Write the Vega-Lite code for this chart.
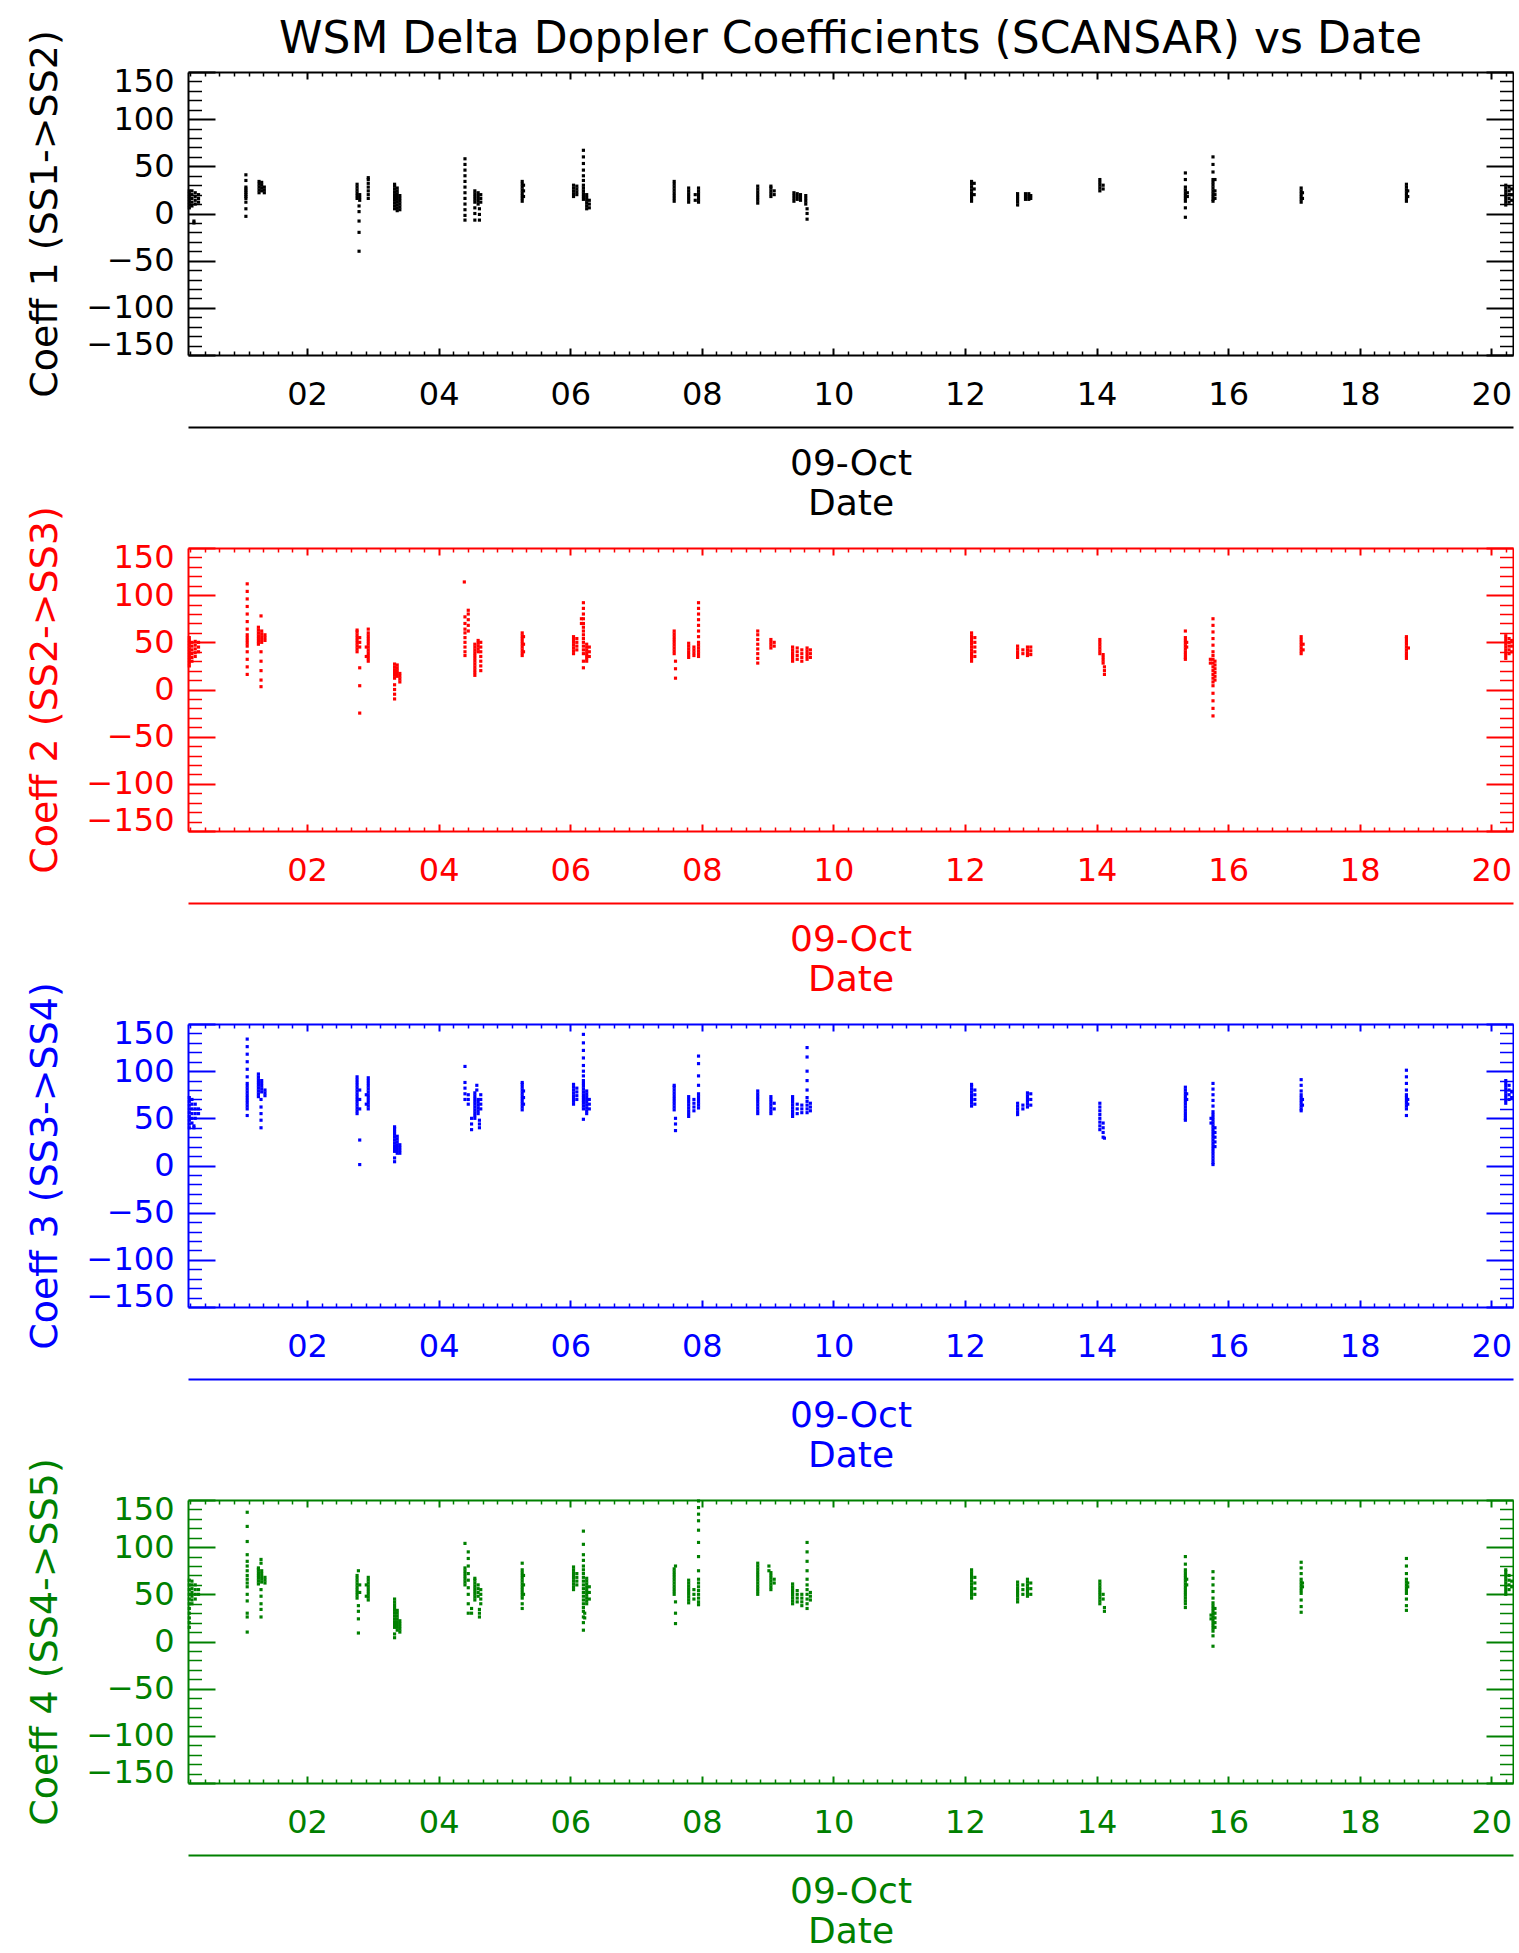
{
"$schema": "https://vega.github.io/schema/vega-lite/v6.json",
"background": "white",
"padding": {"left": 26, "top": 17, "right": 0, "bottom": 5},
"title": {"text": "WSM Delta Doppler Coefficients (SCANSAR) vs Date", "fontSize": 44, "font": "DejaVu Sans", "fontWeight": "normal", "color": "#000000", "anchor": "middle", "frame": "group", "offset": -32},
"config": {"view": {"stroke": null}, "axis": {"labelFont": "DejaVu Sans", "titleFont": "DejaVu Sans", "grid": false, "titleFontWeight": "normal"}},
"spacing": 193,
"bounds": "flush",
"datasets": {
"p1": [
{"h":0.21,"v":6},{"h":0.21,"v":9},{"h":0.21,"v":12},{"h":0.21,"v":15},{"h":0.21,"v":18},{"h":0.21,"v":21},{"h":0.21,"v":24},
{"h":0.25,"v":8},{"h":0.25,"v":12},{"h":0.25,"v":16},{"h":0.25,"v":20},{"h":0.25,"v":24},
{"h":0.3,"v":10},{"h":0.3,"v":14},{"h":0.3,"v":18},{"h":0.3,"v":22},
{"h":0.35,"v":12},{"h":0.35,"v":16},{"h":0.35,"v":20},
{"h":0.28,"v":-10},{"h":0.28,"v":-8},
{"h":1.07,"v":41},{"h":1.07,"v":35},{"h":1.07,"v":28},{"h":1.07,"v":26},{"h":1.07,"v":24},{"h":1.07,"v":22},{"h":1.07,"v":20},{"h":1.07,"v":18},{"h":1.07,"v":16},{"h":1.07,"v":12},{"h":1.07,"v":5},{"h":1.07,"v":-3},
{"h":1.27,"v":22},{"h":1.27,"v":25},{"h":1.27,"v":28},{"h":1.27,"v":31},{"h":1.27,"v":34},
{"h":1.31,"v":24},{"h":1.31,"v":27},{"h":1.31,"v":30},{"h":1.31,"v":33},
{"h":1.35,"v":22},{"h":1.35,"v":25},{"h":1.35,"v":28},
{"h":2.76,"v":16},{"h":2.76,"v":19},{"h":2.76,"v":22},{"h":2.76,"v":25},{"h":2.76,"v":28},{"h":2.76,"v":31},
{"h":2.8,"v":14},{"h":2.8,"v":17},{"h":2.8,"v":20},
{"h":2.79,"v":8},{"h":2.79,"v":2},{"h":2.79,"v":-8},{"h":2.79,"v":-20},{"h":2.79,"v":-40},
{"h":2.93,"v":16},{"h":2.93,"v":20},{"h":2.93,"v":24},{"h":2.93,"v":28},{"h":2.93,"v":32},{"h":2.93,"v":36},{"h":2.93,"v":38},
{"h":3.33,"v":5},{"h":3.33,"v":8},{"h":3.33,"v":11},{"h":3.33,"v":14},{"h":3.33,"v":17},{"h":3.33,"v":20},{"h":3.33,"v":23},{"h":3.33,"v":26},{"h":3.33,"v":29},{"h":3.33,"v":31},
{"h":3.37,"v":3},{"h":3.37,"v":6},{"h":3.37,"v":9},{"h":3.37,"v":12},{"h":3.37,"v":15},{"h":3.37,"v":18},{"h":3.37,"v":21},{"h":3.37,"v":24},{"h":3.37,"v":27},
{"h":3.41,"v":4},{"h":3.41,"v":7},{"h":3.41,"v":10},{"h":3.41,"v":13},{"h":3.41,"v":16},{"h":3.41,"v":19},
{"h":4.4,"v":58},{"h":4.4,"v":52},{"h":4.4,"v":46},{"h":4.4,"v":40},{"h":4.4,"v":34},{"h":4.4,"v":28},{"h":4.4,"v":22},{"h":4.4,"v":16},{"h":4.4,"v":10},{"h":4.4,"v":4},{"h":4.4,"v":-2},{"h":4.4,"v":-7},
{"h":4.55,"v":12},{"h":4.55,"v":15},{"h":4.55,"v":18},{"h":4.55,"v":21},{"h":4.55,"v":24},{"h":4.55,"v":6},{"h":4.55,"v":0},{"h":4.55,"v":-7},
{"h":4.6,"v":10},{"h":4.6,"v":13},{"h":4.6,"v":16},{"h":4.6,"v":19},{"h":4.6,"v":22},
{"h":4.64,"v":12},{"h":4.64,"v":16},{"h":4.64,"v":20},
{"h":4.62,"v":5},{"h":4.62,"v":-1},{"h":4.62,"v":-7},
{"h":5.27,"v":13},{"h":5.27,"v":16},{"h":5.27,"v":19},{"h":5.27,"v":22},{"h":5.27,"v":25},{"h":5.27,"v":28},{"h":5.27,"v":31},{"h":5.27,"v":34},
{"h":5.29,"v":18},{"h":5.29,"v":24},{"h":5.29,"v":30},
{"h":6.05,"v":18},{"h":6.05,"v":21},{"h":6.05,"v":24},{"h":6.05,"v":27},{"h":6.05,"v":30},
{"h":6.1,"v":20},{"h":6.1,"v":23},{"h":6.1,"v":26},{"h":6.1,"v":29},
{"h":6.2,"v":67},{"h":6.2,"v":60},{"h":6.2,"v":53},{"h":6.2,"v":46},{"h":6.2,"v":40},{"h":6.2,"v":35},{"h":6.2,"v":30},{"h":6.2,"v":27},{"h":6.2,"v":24},{"h":6.2,"v":21},{"h":6.2,"v":18},{"h":6.2,"v":15},
{"h":6.25,"v":20},{"h":6.25,"v":17},{"h":6.25,"v":14},{"h":6.25,"v":11},{"h":6.25,"v":8},{"h":6.25,"v":5},
{"h":6.29,"v":14},{"h":6.29,"v":10},{"h":6.29,"v":6},
{"h":7.58,"v":13},{"h":7.58,"v":16},{"h":7.58,"v":19},{"h":7.58,"v":22},{"h":7.58,"v":25},{"h":7.58,"v":28},{"h":7.58,"v":31},{"h":7.58,"v":34},
{"h":7.8,"v":12},{"h":7.8,"v":15},{"h":7.8,"v":18},{"h":7.8,"v":21},{"h":7.8,"v":24},{"h":7.8,"v":27},
{"h":7.95,"v":12},{"h":7.95,"v":15},{"h":7.95,"v":18},{"h":7.95,"v":21},{"h":7.95,"v":24},{"h":7.95,"v":27},
{"h":7.9,"v":14},{"h":7.9,"v":20},
{"h":8.85,"v":11},{"h":8.85,"v":14},{"h":8.85,"v":17},{"h":8.85,"v":20},{"h":8.85,"v":23},{"h":8.85,"v":26},{"h":8.85,"v":29},
{"h":9.05,"v":18},{"h":9.05,"v":21},{"h":9.05,"v":24},{"h":9.05,"v":27},{"h":9.05,"v":29},
{"h":9.1,"v":20},{"h":9.1,"v":24},
{"h":9.4,"v":13},{"h":9.4,"v":16},{"h":9.4,"v":19},{"h":9.4,"v":22},
{"h":9.45,"v":15},{"h":9.45,"v":18},{"h":9.45,"v":21},
{"h":9.5,"v":14},{"h":9.5,"v":17},{"h":9.5,"v":20},
{"h":9.58,"v":10},{"h":9.58,"v":13},{"h":9.58,"v":16},{"h":9.58,"v":19},
{"h":9.6,"v":5},{"h":9.6,"v":0},{"h":9.6,"v":-6},
{"h":12.1,"v":13},{"h":12.1,"v":16},{"h":12.1,"v":19},{"h":12.1,"v":22},{"h":12.1,"v":25},{"h":12.1,"v":28},{"h":12.1,"v":31},{"h":12.1,"v":34},
{"h":12.14,"v":20},{"h":12.14,"v":26},{"h":12.14,"v":32},
{"h":12.8,"v":9},{"h":12.8,"v":12},{"h":12.8,"v":15},{"h":12.8,"v":18},{"h":12.8,"v":21},
{"h":12.92,"v":15},{"h":12.92,"v":18},{"h":12.92,"v":21},
{"h":12.97,"v":15},{"h":12.97,"v":18},{"h":12.97,"v":21},
{"h":13.0,"v":16},{"h":13.0,"v":19},
{"h":14.05,"v":24},{"h":14.05,"v":27},{"h":14.05,"v":30},{"h":14.05,"v":33},{"h":14.05,"v":36},
{"h":14.1,"v":26},{"h":14.1,"v":30},
{"h":15.35,"v":43},{"h":15.35,"v":36},{"h":15.35,"v":28},{"h":15.35,"v":25},{"h":15.35,"v":22},{"h":15.35,"v":19},{"h":15.35,"v":16},{"h":15.35,"v":13},{"h":15.35,"v":6},{"h":15.35,"v":-4},
{"h":15.38,"v":18},{"h":15.38,"v":22},
{"h":15.77,"v":60},{"h":15.77,"v":52},{"h":15.77,"v":44},{"h":15.77,"v":36},{"h":15.77,"v":33},{"h":15.77,"v":30},{"h":15.77,"v":27},{"h":15.77,"v":24},{"h":15.77,"v":21},{"h":15.77,"v":18},{"h":15.77,"v":15},{"h":15.77,"v":13},
{"h":15.8,"v":16},{"h":15.8,"v":20},{"h":15.8,"v":24},{"h":15.8,"v":36},
{"h":17.11,"v":12},{"h":17.11,"v":15},{"h":17.11,"v":18},{"h":17.11,"v":21},{"h":17.11,"v":24},{"h":17.11,"v":27},
{"h":17.13,"v":16},{"h":17.13,"v":22},
{"h":18.71,"v":13},{"h":18.71,"v":16},{"h":18.71,"v":19},{"h":18.71,"v":22},{"h":18.71,"v":25},{"h":18.71,"v":28},{"h":18.71,"v":31},
{"h":18.73,"v":18},{"h":18.73,"v":24},
{"h":20.22,"v":9},{"h":20.22,"v":12},{"h":20.22,"v":15},{"h":20.22,"v":18},{"h":20.22,"v":21},{"h":20.22,"v":24},{"h":20.22,"v":27},{"h":20.22,"v":30},
{"h":20.27,"v":12},{"h":20.27,"v":16},{"h":20.27,"v":20},{"h":20.27,"v":24},{"h":20.27,"v":28},
{"h":20.31,"v":14},{"h":20.31,"v":20},{"h":20.31,"v":26}
],
"p2": [
{"h":0.21,"v":25},{"h":0.21,"v":28},{"h":0.21,"v":31},{"h":0.21,"v":34},{"h":0.21,"v":37},{"h":0.21,"v":40},{"h":0.21,"v":43},{"h":0.21,"v":46},{"h":0.21,"v":49},{"h":0.21,"v":52},{"h":0.21,"v":55},
{"h":0.25,"v":30},{"h":0.25,"v":34},{"h":0.25,"v":38},{"h":0.25,"v":42},{"h":0.25,"v":46},{"h":0.25,"v":50},
{"h":0.3,"v":35},{"h":0.3,"v":39},{"h":0.3,"v":43},{"h":0.3,"v":47},{"h":0.3,"v":51},
{"h":0.35,"v":40},{"h":0.35,"v":45},{"h":0.35,"v":50},
{"h":1.09,"v":112},{"h":1.09,"v":104},{"h":1.09,"v":96},{"h":1.09,"v":88},{"h":1.09,"v":80},{"h":1.09,"v":72},{"h":1.09,"v":64},{"h":1.09,"v":58},{"h":1.09,"v":55},{"h":1.09,"v":52},{"h":1.09,"v":49},{"h":1.09,"v":46},{"h":1.09,"v":40},{"h":1.09,"v":32},{"h":1.09,"v":24},{"h":1.09,"v":16},
{"h":1.26,"v":48},{"h":1.26,"v":51},{"h":1.26,"v":54},{"h":1.26,"v":57},{"h":1.26,"v":60},{"h":1.26,"v":63},{"h":1.26,"v":66},
{"h":1.31,"v":50},{"h":1.31,"v":53},{"h":1.31,"v":56},{"h":1.31,"v":59},{"h":1.31,"v":62},
{"h":1.36,"v":52},{"h":1.36,"v":55},{"h":1.36,"v":58},
{"h":1.3,"v":40},{"h":1.3,"v":30},{"h":1.3,"v":20},{"h":1.3,"v":10},{"h":1.3,"v":3},{"h":1.3,"v":78},
{"h":2.76,"v":40},{"h":2.76,"v":43},{"h":2.76,"v":46},{"h":2.76,"v":49},{"h":2.76,"v":52},{"h":2.76,"v":55},{"h":2.76,"v":58},{"h":2.76,"v":61},{"h":2.76,"v":63},
{"h":2.8,"v":45},{"h":2.8,"v":50},{"h":2.8,"v":55},{"h":2.8,"v":23},{"h":2.8,"v":4},{"h":2.8,"v":-25},
{"h":2.93,"v":30},{"h":2.93,"v":33},{"h":2.93,"v":36},{"h":2.93,"v":39},{"h":2.93,"v":42},{"h":2.93,"v":45},{"h":2.93,"v":48},{"h":2.93,"v":51},{"h":2.93,"v":54},{"h":2.93,"v":57},{"h":2.93,"v":60},{"h":2.93,"v":64},
{"h":2.9,"v":35},{"h":2.9,"v":45},
{"h":3.33,"v":12},{"h":3.33,"v":15},{"h":3.33,"v":18},{"h":3.33,"v":21},{"h":3.33,"v":24},{"h":3.33,"v":27},{"h":3.33,"v":5},{"h":3.33,"v":0},{"h":3.33,"v":-5},{"h":3.33,"v":-10},
{"h":3.37,"v":14},{"h":3.37,"v":17},{"h":3.37,"v":20},{"h":3.37,"v":23},{"h":3.37,"v":26},
{"h":3.41,"v":8},{"h":3.41,"v":11},{"h":3.41,"v":14},{"h":3.41,"v":17},
{"h":4.39,"v":114},
{"h":4.4,"v":77},{"h":4.4,"v":70},{"h":4.4,"v":64},{"h":4.4,"v":60},{"h":4.4,"v":55},{"h":4.4,"v":50},{"h":4.4,"v":45},{"h":4.4,"v":40},{"h":4.4,"v":36},
{"h":4.45,"v":84},{"h":4.45,"v":80},{"h":4.45,"v":74},{"h":4.45,"v":68},{"h":4.45,"v":62},
{"h":4.55,"v":15},{"h":4.55,"v":18},{"h":4.55,"v":21},{"h":4.55,"v":24},{"h":4.55,"v":27},{"h":4.55,"v":30},{"h":4.55,"v":33},{"h":4.55,"v":36},{"h":4.55,"v":39},{"h":4.55,"v":42},{"h":4.55,"v":45},{"h":4.55,"v":48},
{"h":4.6,"v":40},{"h":4.6,"v":43},{"h":4.6,"v":46},{"h":4.6,"v":49},{"h":4.6,"v":52},
{"h":4.64,"v":20},{"h":4.64,"v":25},{"h":4.64,"v":30},{"h":4.64,"v":35},{"h":4.64,"v":40},{"h":4.64,"v":45},{"h":4.64,"v":50},
{"h":5.27,"v":36},{"h":5.27,"v":39},{"h":5.27,"v":42},{"h":5.27,"v":45},{"h":5.27,"v":48},{"h":5.27,"v":51},{"h":5.27,"v":54},{"h":5.27,"v":57},{"h":5.27,"v":60},
{"h":5.29,"v":40},{"h":5.29,"v":48},{"h":5.29,"v":56},
{"h":6.05,"v":38},{"h":6.05,"v":41},{"h":6.05,"v":44},{"h":6.05,"v":47},{"h":6.05,"v":50},{"h":6.05,"v":53},{"h":6.05,"v":56},
{"h":6.1,"v":42},{"h":6.1,"v":46},{"h":6.1,"v":50},{"h":6.1,"v":54},
{"h":6.2,"v":92},{"h":6.2,"v":86},{"h":6.2,"v":80},{"h":6.2,"v":75},{"h":6.2,"v":70},{"h":6.2,"v":66},{"h":6.2,"v":62},{"h":6.2,"v":58},{"h":6.2,"v":54},{"h":6.2,"v":50},{"h":6.2,"v":46},{"h":6.2,"v":42},{"h":6.2,"v":38},{"h":6.2,"v":30},{"h":6.2,"v":23},
{"h":6.25,"v":30},{"h":6.25,"v":33},{"h":6.25,"v":36},{"h":6.25,"v":39},{"h":6.25,"v":42},{"h":6.25,"v":45},{"h":6.25,"v":48},
{"h":6.29,"v":35},{"h":6.29,"v":40},{"h":6.29,"v":45},
{"h":6.17,"v":70},{"h":6.17,"v":75},
{"h":7.58,"v":38},{"h":7.58,"v":41},{"h":7.58,"v":44},{"h":7.58,"v":47},{"h":7.58,"v":50},{"h":7.58,"v":53},{"h":7.58,"v":56},{"h":7.58,"v":59},{"h":7.58,"v":62},
{"h":7.6,"v":30},{"h":7.6,"v":22},{"h":7.6,"v":12},
{"h":7.8,"v":34},{"h":7.8,"v":37},{"h":7.8,"v":40},{"h":7.8,"v":43},{"h":7.8,"v":46},{"h":7.8,"v":49},
{"h":7.88,"v":36},{"h":7.88,"v":39},{"h":7.88,"v":42},{"h":7.88,"v":45},
{"h":7.95,"v":92},{"h":7.95,"v":86},{"h":7.95,"v":80},{"h":7.95,"v":74},{"h":7.95,"v":68},{"h":7.95,"v":62},{"h":7.95,"v":56},{"h":7.95,"v":50},{"h":7.95,"v":47},{"h":7.95,"v":44},{"h":7.95,"v":41},{"h":7.95,"v":38},{"h":7.95,"v":35},
{"h":8.85,"v":28},{"h":8.85,"v":33},{"h":8.85,"v":38},{"h":8.85,"v":43},{"h":8.85,"v":48},{"h":8.85,"v":53},{"h":8.85,"v":58},{"h":8.85,"v":62},
{"h":9.05,"v":44},{"h":9.05,"v":47},{"h":9.05,"v":50},{"h":9.05,"v":53},
{"h":9.1,"v":46},{"h":9.1,"v":50},
{"h":9.38,"v":30},{"h":9.38,"v":33},{"h":9.38,"v":36},{"h":9.38,"v":39},{"h":9.38,"v":42},{"h":9.38,"v":45},
{"h":9.45,"v":32},{"h":9.45,"v":36},{"h":9.45,"v":40},{"h":9.45,"v":44},
{"h":9.52,"v":30},{"h":9.52,"v":34},{"h":9.52,"v":38},{"h":9.52,"v":42},
{"h":9.6,"v":32},{"h":9.6,"v":35},{"h":9.6,"v":38},{"h":9.6,"v":41},{"h":9.6,"v":44},
{"h":9.65,"v":34},{"h":9.65,"v":38},{"h":9.65,"v":42},
{"h":12.1,"v":30},{"h":12.1,"v":33},{"h":12.1,"v":36},{"h":12.1,"v":39},{"h":12.1,"v":42},{"h":12.1,"v":45},{"h":12.1,"v":48},{"h":12.1,"v":51},{"h":12.1,"v":54},{"h":12.1,"v":57},{"h":12.1,"v":60},
{"h":12.15,"v":35},{"h":12.15,"v":40},{"h":12.15,"v":45},{"h":12.15,"v":50},{"h":12.15,"v":55},
{"h":12.8,"v":34},{"h":12.8,"v":37},{"h":12.8,"v":40},{"h":12.8,"v":43},{"h":12.8,"v":46},
{"h":12.88,"v":38},{"h":12.88,"v":42},
{"h":12.95,"v":36},{"h":12.95,"v":39},{"h":12.95,"v":42},{"h":12.95,"v":45},
{"h":13.0,"v":37},{"h":13.0,"v":41},{"h":13.0,"v":45},
{"h":14.05,"v":38},{"h":14.05,"v":41},{"h":14.05,"v":44},{"h":14.05,"v":47},{"h":14.05,"v":50},{"h":14.05,"v":53},
{"h":14.1,"v":28},{"h":14.1,"v":31},{"h":14.1,"v":34},{"h":14.1,"v":37},
{"h":14.12,"v":24},{"h":14.12,"v":20},{"h":14.12,"v":16},
{"h":15.35,"v":62},{"h":15.35,"v":55},{"h":15.35,"v":52},{"h":15.35,"v":49},{"h":15.35,"v":46},{"h":15.35,"v":43},{"h":15.35,"v":40},{"h":15.35,"v":37},{"h":15.35,"v":34},{"h":15.35,"v":32},
{"h":15.37,"v":45},{"h":15.37,"v":50},
{"h":15.77,"v":75},{"h":15.77,"v":68},{"h":15.77,"v":61},{"h":15.77,"v":54},{"h":15.77,"v":47},{"h":15.77,"v":40},{"h":15.77,"v":36},{"h":15.77,"v":32},{"h":15.77,"v":28},{"h":15.77,"v":24},{"h":15.77,"v":20},{"h":15.77,"v":16},{"h":15.77,"v":12},{"h":15.77,"v":8},{"h":15.77,"v":4},{"h":15.77,"v":-4},{"h":15.77,"v":-12},{"h":15.77,"v":-20},{"h":15.77,"v":-28},
{"h":15.8,"v":30},{"h":15.8,"v":26},{"h":15.8,"v":22},{"h":15.8,"v":18},{"h":15.8,"v":14},{"h":15.8,"v":10},
{"h":15.73,"v":28},{"h":15.73,"v":32},
{"h":17.11,"v":38},{"h":17.11,"v":41},{"h":17.11,"v":44},{"h":17.11,"v":47},{"h":17.11,"v":50},{"h":17.11,"v":53},{"h":17.11,"v":56},
{"h":17.14,"v":42},{"h":17.14,"v":48},
{"h":18.71,"v":33},{"h":18.71,"v":36},{"h":18.71,"v":39},{"h":18.71,"v":42},{"h":18.71,"v":45},{"h":18.71,"v":48},{"h":18.71,"v":51},{"h":18.71,"v":54},{"h":18.71,"v":56},
{"h":18.74,"v":44},
{"h":20.22,"v":33},{"h":20.22,"v":36},{"h":20.22,"v":39},{"h":20.22,"v":42},{"h":20.22,"v":45},{"h":20.22,"v":48},{"h":20.22,"v":51},{"h":20.22,"v":54},{"h":20.22,"v":57},
{"h":20.27,"v":38},{"h":20.27,"v":42},{"h":20.27,"v":46},{"h":20.27,"v":50},{"h":20.27,"v":54},
{"h":20.31,"v":40},{"h":20.31,"v":46},{"h":20.31,"v":52}
],
"p3": [
{"h":0.21,"v":40},{"h":0.21,"v":44},{"h":0.21,"v":48},{"h":0.21,"v":52},{"h":0.21,"v":56},{"h":0.21,"v":60},{"h":0.21,"v":64},{"h":0.21,"v":68},{"h":0.21,"v":72},
{"h":0.25,"v":45},{"h":0.25,"v":50},{"h":0.25,"v":55},{"h":0.25,"v":60},{"h":0.25,"v":65},{"h":0.25,"v":70},
{"h":0.3,"v":50},{"h":0.3,"v":55},{"h":0.3,"v":60},{"h":0.3,"v":65},
{"h":0.35,"v":55},{"h":0.35,"v":60},
{"h":0.28,"v":42},{"h":0.28,"v":40},
{"h":1.09,"v":134},{"h":1.09,"v":126},{"h":1.09,"v":118},{"h":1.09,"v":110},{"h":1.09,"v":102},{"h":1.09,"v":94},{"h":1.09,"v":87},{"h":1.09,"v":84},{"h":1.09,"v":81},{"h":1.09,"v":78},{"h":1.09,"v":75},{"h":1.09,"v":72},{"h":1.09,"v":69},{"h":1.09,"v":66},{"h":1.09,"v":63},{"h":1.09,"v":60},{"h":1.09,"v":53},
{"h":1.26,"v":73},{"h":1.26,"v":76},{"h":1.26,"v":79},{"h":1.26,"v":82},{"h":1.26,"v":85},{"h":1.26,"v":88},{"h":1.26,"v":91},{"h":1.26,"v":94},{"h":1.26,"v":97},
{"h":1.31,"v":78},{"h":1.31,"v":81},{"h":1.31,"v":84},{"h":1.31,"v":87},{"h":1.31,"v":90},
{"h":1.36,"v":74},{"h":1.36,"v":77},{"h":1.36,"v":80},
{"h":1.3,"v":70},{"h":1.3,"v":62},{"h":1.3,"v":55},{"h":1.3,"v":48},{"h":1.3,"v":40},
{"h":2.76,"v":55},{"h":2.76,"v":58},{"h":2.76,"v":61},{"h":2.76,"v":64},{"h":2.76,"v":67},{"h":2.76,"v":70},{"h":2.76,"v":73},{"h":2.76,"v":76},{"h":2.76,"v":79},{"h":2.76,"v":82},{"h":2.76,"v":85},{"h":2.76,"v":88},{"h":2.76,"v":91},{"h":2.76,"v":94},
{"h":2.8,"v":60},{"h":2.8,"v":70},{"h":2.8,"v":80},{"h":2.8,"v":27},{"h":2.8,"v":1},
{"h":2.93,"v":60},{"h":2.93,"v":63},{"h":2.93,"v":66},{"h":2.93,"v":69},{"h":2.93,"v":72},{"h":2.93,"v":75},{"h":2.93,"v":78},{"h":2.93,"v":81},{"h":2.93,"v":84},{"h":2.93,"v":87},{"h":2.93,"v":90},{"h":2.93,"v":93},
{"h":2.9,"v":65},{"h":2.9,"v":75},
{"h":3.33,"v":15},{"h":3.33,"v":18},{"h":3.33,"v":21},{"h":3.33,"v":24},{"h":3.33,"v":27},{"h":3.33,"v":30},{"h":3.33,"v":33},{"h":3.33,"v":36},{"h":3.33,"v":39},{"h":3.33,"v":41},{"h":3.33,"v":8},{"h":3.33,"v":4},
{"h":3.37,"v":13},{"h":3.37,"v":16},{"h":3.37,"v":19},{"h":3.37,"v":22},{"h":3.37,"v":25},{"h":3.37,"v":28},{"h":3.37,"v":31},
{"h":3.41,"v":13},{"h":3.41,"v":16},{"h":3.41,"v":19},{"h":3.41,"v":22},
{"h":4.4,"v":105},{"h":4.4,"v":88},{"h":4.4,"v":82},{"h":4.4,"v":76},{"h":4.4,"v":70},
{"h":4.45,"v":75},{"h":4.45,"v":70},{"h":4.45,"v":65},
{"h":4.5,"v":38},{"h":4.5,"v":44},{"h":4.5,"v":50},
{"h":4.55,"v":50},{"h":4.55,"v":53},{"h":4.55,"v":56},{"h":4.55,"v":59},{"h":4.55,"v":62},{"h":4.55,"v":65},{"h":4.55,"v":68},{"h":4.55,"v":71},{"h":4.55,"v":74},{"h":4.55,"v":77},
{"h":4.6,"v":55},{"h":4.6,"v":58},{"h":4.6,"v":61},{"h":4.6,"v":64},{"h":4.6,"v":67},{"h":4.6,"v":70},
{"h":4.64,"v":60},{"h":4.64,"v":65},{"h":4.64,"v":70},{"h":4.64,"v":75},
{"h":4.62,"v":48},{"h":4.62,"v":44},{"h":4.62,"v":40},
{"h":4.58,"v":85},{"h":4.58,"v":80},
{"h":5.27,"v":59},{"h":5.27,"v":62},{"h":5.27,"v":65},{"h":5.27,"v":68},{"h":5.27,"v":71},{"h":5.27,"v":74},{"h":5.27,"v":77},{"h":5.27,"v":80},{"h":5.27,"v":83},{"h":5.27,"v":86},{"h":5.27,"v":88},
{"h":5.29,"v":65},{"h":5.29,"v":72},{"h":5.29,"v":79},
{"h":6.05,"v":65},{"h":6.05,"v":68},{"h":6.05,"v":71},{"h":6.05,"v":74},{"h":6.05,"v":77},{"h":6.05,"v":80},{"h":6.05,"v":83},{"h":6.05,"v":86},
{"h":6.1,"v":70},{"h":6.1,"v":74},{"h":6.1,"v":78},{"h":6.1,"v":82},
{"h":6.2,"v":139},{"h":6.2,"v":130},{"h":6.2,"v":122},{"h":6.2,"v":114},{"h":6.2,"v":106},{"h":6.2,"v":100},{"h":6.2,"v":95},{"h":6.2,"v":90},{"h":6.2,"v":87},{"h":6.2,"v":84},{"h":6.2,"v":81},{"h":6.2,"v":78},{"h":6.2,"v":75},{"h":6.2,"v":72},{"h":6.2,"v":69},{"h":6.2,"v":66},{"h":6.2,"v":63},{"h":6.2,"v":60},{"h":6.2,"v":49},
{"h":6.25,"v":55},{"h":6.25,"v":58},{"h":6.25,"v":61},{"h":6.25,"v":64},{"h":6.25,"v":67},{"h":6.25,"v":70},{"h":6.25,"v":73},{"h":6.25,"v":76},{"h":6.25,"v":79},
{"h":6.29,"v":60},{"h":6.29,"v":65},{"h":6.29,"v":70},
{"h":7.58,"v":59},{"h":7.58,"v":62},{"h":7.58,"v":65},{"h":7.58,"v":68},{"h":7.58,"v":71},{"h":7.58,"v":74},{"h":7.58,"v":77},{"h":7.58,"v":80},{"h":7.58,"v":83},{"h":7.58,"v":85},
{"h":7.6,"v":50},{"h":7.6,"v":44},{"h":7.6,"v":37},
{"h":7.8,"v":52},{"h":7.8,"v":55},{"h":7.8,"v":58},{"h":7.8,"v":61},{"h":7.8,"v":64},{"h":7.8,"v":67},{"h":7.8,"v":70},{"h":7.8,"v":73},
{"h":7.88,"v":58},{"h":7.88,"v":62},{"h":7.88,"v":66},{"h":7.88,"v":70},
{"h":7.95,"v":116},{"h":7.95,"v":108},{"h":7.95,"v":95},{"h":7.95,"v":85},{"h":7.95,"v":76},{"h":7.95,"v":73},{"h":7.95,"v":70},{"h":7.95,"v":67},{"h":7.95,"v":64},{"h":7.95,"v":61},
{"h":8.85,"v":55},{"h":8.85,"v":58},{"h":8.85,"v":61},{"h":8.85,"v":64},{"h":8.85,"v":67},{"h":8.85,"v":70},{"h":8.85,"v":73},{"h":8.85,"v":76},{"h":8.85,"v":79},
{"h":9.05,"v":55},{"h":9.05,"v":58},{"h":9.05,"v":61},{"h":9.05,"v":64},{"h":9.05,"v":67},{"h":9.05,"v":70},{"h":9.05,"v":73},
{"h":9.1,"v":60},{"h":9.1,"v":66},
{"h":9.38,"v":52},{"h":9.38,"v":55},{"h":9.38,"v":58},{"h":9.38,"v":61},{"h":9.38,"v":64},{"h":9.38,"v":67},{"h":9.38,"v":70},{"h":9.38,"v":73},
{"h":9.45,"v":55},{"h":9.45,"v":60},{"h":9.45,"v":65},
{"h":9.52,"v":56},{"h":9.52,"v":60},{"h":9.52,"v":64},
{"h":9.6,"v":125},{"h":9.6,"v":115},{"h":9.6,"v":100},{"h":9.6,"v":90},{"h":9.6,"v":80},{"h":9.6,"v":72},{"h":9.6,"v":68},{"h":9.6,"v":64},{"h":9.6,"v":60},{"h":9.6,"v":56},
{"h":9.65,"v":58},{"h":9.65,"v":62},{"h":9.65,"v":66},
{"h":12.1,"v":63},{"h":12.1,"v":66},{"h":12.1,"v":69},{"h":12.1,"v":72},{"h":12.1,"v":75},{"h":12.1,"v":78},{"h":12.1,"v":81},{"h":12.1,"v":84},{"h":12.1,"v":86},
{"h":12.15,"v":65},{"h":12.15,"v":70},{"h":12.15,"v":75},{"h":12.15,"v":80},
{"h":12.8,"v":54},{"h":12.8,"v":57},{"h":12.8,"v":60},{"h":12.8,"v":63},{"h":12.8,"v":66},
{"h":12.88,"v":60},{"h":12.88,"v":64},
{"h":12.95,"v":62},{"h":12.95,"v":65},{"h":12.95,"v":68},{"h":12.95,"v":71},{"h":12.95,"v":74},{"h":12.95,"v":77},
{"h":13.0,"v":64},{"h":13.0,"v":70},{"h":13.0,"v":76},
{"h":14.05,"v":66},{"h":14.05,"v":62},{"h":14.05,"v":58},{"h":14.05,"v":54},{"h":14.05,"v":50},{"h":14.05,"v":46},{"h":14.05,"v":42},{"h":14.05,"v":38},
{"h":14.1,"v":45},{"h":14.1,"v":40},{"h":14.1,"v":35},{"h":14.1,"v":30},
{"h":14.12,"v":29},
{"h":15.35,"v":83},{"h":15.35,"v":80},{"h":15.35,"v":77},{"h":15.35,"v":74},{"h":15.35,"v":71},{"h":15.35,"v":68},{"h":15.35,"v":65},{"h":15.35,"v":62},{"h":15.35,"v":59},{"h":15.35,"v":56},{"h":15.35,"v":53},{"h":15.35,"v":50},{"h":15.35,"v":48},
{"h":15.37,"v":70},{"h":15.37,"v":76},
{"h":15.77,"v":87},{"h":15.77,"v":81},{"h":15.77,"v":75},{"h":15.77,"v":69},{"h":15.77,"v":63},{"h":15.77,"v":57},{"h":15.77,"v":54},{"h":15.77,"v":51},{"h":15.77,"v":48},{"h":15.77,"v":45},{"h":15.77,"v":42},{"h":15.77,"v":39},{"h":15.77,"v":36},{"h":15.77,"v":33},{"h":15.77,"v":30},{"h":15.77,"v":27},{"h":15.77,"v":24},{"h":15.77,"v":21},{"h":15.77,"v":18},{"h":15.77,"v":15},{"h":15.77,"v":12},{"h":15.77,"v":9},{"h":15.77,"v":6},{"h":15.77,"v":3},{"h":15.77,"v":1},
{"h":15.8,"v":40},{"h":15.8,"v":35},{"h":15.8,"v":30},{"h":15.8,"v":25},{"h":15.8,"v":20},
{"h":15.74,"v":45},{"h":15.74,"v":50},
{"h":17.11,"v":91},{"h":17.11,"v":85},{"h":17.11,"v":79},{"h":17.11,"v":75},{"h":17.11,"v":72},{"h":17.11,"v":69},{"h":17.11,"v":66},{"h":17.11,"v":63},{"h":17.11,"v":60},{"h":17.11,"v":58},
{"h":17.13,"v":64},{"h":17.13,"v":70},
{"h":18.71,"v":101},{"h":18.71,"v":94},{"h":18.71,"v":87},{"h":18.71,"v":80},{"h":18.71,"v":75},{"h":18.71,"v":72},{"h":18.71,"v":69},{"h":18.71,"v":66},{"h":18.71,"v":63},{"h":18.71,"v":60},{"h":18.71,"v":53},
{"h":18.73,"v":65},{"h":18.73,"v":70},
{"h":20.22,"v":66},{"h":20.22,"v":69},{"h":20.22,"v":72},{"h":20.22,"v":75},{"h":20.22,"v":78},{"h":20.22,"v":81},{"h":20.22,"v":84},{"h":20.22,"v":87},{"h":20.22,"v":90},
{"h":20.27,"v":70},{"h":20.27,"v":75},{"h":20.27,"v":80},{"h":20.27,"v":85},
{"h":20.31,"v":72},{"h":20.31,"v":78}
],
"p4": [
{"h":0.21,"v":15},{"h":0.21,"v":20},{"h":0.21,"v":25},{"h":0.21,"v":30},{"h":0.21,"v":35},{"h":0.21,"v":40},{"h":0.21,"v":45},{"h":0.21,"v":50},{"h":0.21,"v":55},{"h":0.21,"v":60},{"h":0.21,"v":65},
{"h":0.25,"v":40},{"h":0.25,"v":44},{"h":0.25,"v":48},{"h":0.25,"v":52},{"h":0.25,"v":56},{"h":0.25,"v":60},{"h":0.25,"v":64},
{"h":0.3,"v":45},{"h":0.3,"v":50},{"h":0.3,"v":55},{"h":0.3,"v":60},
{"h":0.35,"v":50},{"h":0.35,"v":55},
{"h":1.09,"v":137},{"h":1.09,"v":122},{"h":1.09,"v":106},{"h":1.09,"v":92},{"h":1.09,"v":85},{"h":1.09,"v":80},{"h":1.09,"v":75},{"h":1.09,"v":70},{"h":1.09,"v":66},{"h":1.09,"v":62},{"h":1.09,"v":58},{"h":1.09,"v":50},{"h":1.09,"v":43},{"h":1.09,"v":30},{"h":1.09,"v":26},{"h":1.09,"v":10},
{"h":1.26,"v":61},{"h":1.26,"v":64},{"h":1.26,"v":67},{"h":1.26,"v":70},{"h":1.26,"v":73},{"h":1.26,"v":76},{"h":1.26,"v":78},
{"h":1.31,"v":63},{"h":1.31,"v":66},{"h":1.31,"v":69},{"h":1.31,"v":72},{"h":1.31,"v":75},
{"h":1.36,"v":62},{"h":1.36,"v":65},{"h":1.36,"v":68},
{"h":1.3,"v":87},{"h":1.3,"v":83},{"h":1.3,"v":55},{"h":1.3,"v":48},{"h":1.3,"v":40},{"h":1.3,"v":34},{"h":1.3,"v":26},
{"h":2.76,"v":46},{"h":2.76,"v":49},{"h":2.76,"v":52},{"h":2.76,"v":55},{"h":2.76,"v":58},{"h":2.76,"v":61},{"h":2.76,"v":64},{"h":2.76,"v":67},{"h":2.76,"v":70},
{"h":2.8,"v":52},{"h":2.8,"v":60},
{"h":2.93,"v":44},{"h":2.93,"v":47},{"h":2.93,"v":50},{"h":2.93,"v":53},{"h":2.93,"v":56},{"h":2.93,"v":59},{"h":2.93,"v":62},{"h":2.93,"v":65},{"h":2.93,"v":68},
{"h":2.9,"v":48},{"h":2.9,"v":60},
{"h":2.78,"v":75},{"h":2.78,"v":38},{"h":2.78,"v":32},{"h":2.78,"v":24},{"h":2.78,"v":9},
{"h":3.33,"v":15},{"h":3.33,"v":18},{"h":3.33,"v":21},{"h":3.33,"v":24},{"h":3.33,"v":27},{"h":3.33,"v":30},{"h":3.33,"v":33},{"h":3.33,"v":36},{"h":3.33,"v":39},{"h":3.33,"v":42},{"h":3.33,"v":45},{"h":3.33,"v":8},{"h":3.33,"v":4},
{"h":3.37,"v":12},{"h":3.37,"v":15},{"h":3.37,"v":18},{"h":3.37,"v":21},{"h":3.37,"v":24},{"h":3.37,"v":27},{"h":3.37,"v":30},{"h":3.37,"v":33},
{"h":3.41,"v":10},{"h":3.41,"v":13},{"h":3.41,"v":16},{"h":3.41,"v":19},{"h":3.41,"v":22},
{"h":4.4,"v":104},{"h":4.4,"v":78},{"h":4.4,"v":75},{"h":4.4,"v":72},{"h":4.4,"v":69},{"h":4.4,"v":66},{"h":4.4,"v":63},{"h":4.4,"v":60},
{"h":4.45,"v":95},{"h":4.45,"v":88},{"h":4.45,"v":80},{"h":4.45,"v":72},{"h":4.45,"v":65},{"h":4.45,"v":57},{"h":4.45,"v":50},{"h":4.45,"v":40},{"h":4.45,"v":30},
{"h":4.55,"v":44},{"h":4.55,"v":47},{"h":4.55,"v":50},{"h":4.55,"v":53},{"h":4.55,"v":56},{"h":4.55,"v":59},{"h":4.55,"v":62},{"h":4.55,"v":65},{"h":4.55,"v":67},
{"h":4.6,"v":48},{"h":4.6,"v":52},{"h":4.6,"v":56},{"h":4.6,"v":60},
{"h":4.64,"v":40},{"h":4.64,"v":45},{"h":4.64,"v":50},{"h":4.64,"v":55},
{"h":4.62,"v":34},{"h":4.62,"v":30},{"h":4.62,"v":26},
{"h":4.5,"v":35},{"h":4.5,"v":30},
{"h":5.27,"v":35},{"h":5.27,"v":40},{"h":5.27,"v":46},{"h":5.27,"v":49},{"h":5.27,"v":52},{"h":5.27,"v":55},{"h":5.27,"v":58},{"h":5.27,"v":61},{"h":5.27,"v":64},{"h":5.27,"v":67},{"h":5.27,"v":70},{"h":5.27,"v":73},{"h":5.27,"v":76},{"h":5.27,"v":83},
{"h":5.29,"v":50},{"h":5.29,"v":60},{"h":5.29,"v":70},
{"h":6.05,"v":55},{"h":6.05,"v":58},{"h":6.05,"v":61},{"h":6.05,"v":64},{"h":6.05,"v":67},{"h":6.05,"v":70},{"h":6.05,"v":73},{"h":6.05,"v":76},{"h":6.05,"v":79},
{"h":6.1,"v":60},{"h":6.1,"v":64},{"h":6.1,"v":68},{"h":6.1,"v":72},
{"h":6.2,"v":117},{"h":6.2,"v":103},{"h":6.2,"v":92},{"h":6.2,"v":86},{"h":6.2,"v":80},{"h":6.2,"v":76},{"h":6.2,"v":72},{"h":6.2,"v":68},{"h":6.2,"v":64},{"h":6.2,"v":60},{"h":6.2,"v":56},{"h":6.2,"v":52},{"h":6.2,"v":48},{"h":6.2,"v":44},{"h":6.2,"v":40},{"h":6.2,"v":36},{"h":6.2,"v":32},{"h":6.2,"v":26},{"h":6.2,"v":20},{"h":6.2,"v":12},
{"h":6.25,"v":40},{"h":6.25,"v":43},{"h":6.25,"v":46},{"h":6.25,"v":49},{"h":6.25,"v":52},{"h":6.25,"v":55},{"h":6.25,"v":58},{"h":6.25,"v":61},{"h":6.25,"v":64},{"h":6.25,"v":67},
{"h":6.29,"v":45},{"h":6.29,"v":52},{"h":6.29,"v":58},
{"h":6.22,"v":30},{"h":6.22,"v":25},
{"h":7.58,"v":50},{"h":7.58,"v":53},{"h":7.58,"v":56},{"h":7.58,"v":59},{"h":7.58,"v":62},{"h":7.58,"v":65},{"h":7.58,"v":68},{"h":7.58,"v":71},{"h":7.58,"v":74},{"h":7.58,"v":77},
{"h":7.6,"v":42},{"h":7.6,"v":30},{"h":7.6,"v":19},{"h":7.6,"v":80},
{"h":7.8,"v":41},{"h":7.8,"v":44},{"h":7.8,"v":47},{"h":7.8,"v":50},{"h":7.8,"v":53},{"h":7.8,"v":56},{"h":7.8,"v":59},{"h":7.8,"v":62},{"h":7.8,"v":65},
{"h":7.88,"v":45},{"h":7.88,"v":50},{"h":7.88,"v":55},
{"h":7.95,"v":149},{"h":7.95,"v":142},{"h":7.95,"v":135},{"h":7.95,"v":128},{"h":7.95,"v":118},{"h":7.95,"v":105},{"h":7.95,"v":90},{"h":7.95,"v":75},{"h":7.95,"v":66},{"h":7.95,"v":62},{"h":7.95,"v":58},{"h":7.95,"v":54},{"h":7.95,"v":50},{"h":7.95,"v":46},{"h":7.95,"v":42},{"h":7.95,"v":39},
{"h":8.85,"v":50},{"h":8.85,"v":53},{"h":8.85,"v":56},{"h":8.85,"v":59},{"h":8.85,"v":62},{"h":8.85,"v":65},{"h":8.85,"v":68},{"h":8.85,"v":71},{"h":8.85,"v":74},{"h":8.85,"v":77},{"h":8.85,"v":80},{"h":8.85,"v":83},
{"h":9.05,"v":55},{"h":9.05,"v":58},{"h":9.05,"v":61},{"h":9.05,"v":64},{"h":9.05,"v":67},{"h":9.05,"v":70},{"h":9.05,"v":73},
{"h":9.1,"v":62},{"h":9.1,"v":66},
{"h":9.02,"v":75},{"h":9.02,"v":80},
{"h":9.38,"v":40},{"h":9.38,"v":43},{"h":9.38,"v":46},{"h":9.38,"v":49},{"h":9.38,"v":52},{"h":9.38,"v":55},{"h":9.38,"v":58},{"h":9.38,"v":61},
{"h":9.45,"v":42},{"h":9.45,"v":46},{"h":9.45,"v":50},{"h":9.45,"v":54},
{"h":9.52,"v":38},{"h":9.52,"v":42},{"h":9.52,"v":46},{"h":9.52,"v":50},
{"h":9.6,"v":105},{"h":9.6,"v":95},{"h":9.6,"v":85},{"h":9.6,"v":75},{"h":9.6,"v":66},{"h":9.6,"v":60},{"h":9.6,"v":55},{"h":9.6,"v":50},{"h":9.6,"v":45},{"h":9.6,"v":40},{"h":9.6,"v":35},
{"h":9.65,"v":44},{"h":9.65,"v":48},{"h":9.65,"v":52},
{"h":12.1,"v":46},{"h":12.1,"v":49},{"h":12.1,"v":52},{"h":12.1,"v":55},{"h":12.1,"v":58},{"h":12.1,"v":61},{"h":12.1,"v":64},{"h":12.1,"v":67},{"h":12.1,"v":70},{"h":12.1,"v":73},{"h":12.1,"v":76},
{"h":12.15,"v":50},{"h":12.15,"v":56},{"h":12.15,"v":62},{"h":12.15,"v":68},
{"h":12.8,"v":42},{"h":12.8,"v":45},{"h":12.8,"v":48},{"h":12.8,"v":51},{"h":12.8,"v":54},{"h":12.8,"v":57},{"h":12.8,"v":60},{"h":12.8,"v":63},
{"h":12.88,"v":50},{"h":12.88,"v":55},{"h":12.88,"v":60},
{"h":12.95,"v":48},{"h":12.95,"v":51},{"h":12.95,"v":54},{"h":12.95,"v":57},{"h":12.95,"v":60},{"h":12.95,"v":63},{"h":12.95,"v":66},
{"h":13.0,"v":50},{"h":13.0,"v":56},{"h":13.0,"v":62},
{"h":14.05,"v":40},{"h":14.05,"v":43},{"h":14.05,"v":46},{"h":14.05,"v":49},{"h":14.05,"v":52},{"h":14.05,"v":55},{"h":14.05,"v":58},{"h":14.05,"v":61},{"h":14.05,"v":64},
{"h":14.1,"v":45},{"h":14.1,"v":50},
{"h":14.12,"v":36},{"h":14.12,"v":32},
{"h":15.35,"v":90},{"h":15.35,"v":82},{"h":15.35,"v":76},{"h":15.35,"v":73},{"h":15.35,"v":70},{"h":15.35,"v":67},{"h":15.35,"v":64},{"h":15.35,"v":61},{"h":15.35,"v":58},{"h":15.35,"v":55},{"h":15.35,"v":52},{"h":15.35,"v":49},{"h":15.35,"v":46},{"h":15.35,"v":43},{"h":15.35,"v":40},{"h":15.35,"v":36},
{"h":15.37,"v":60},{"h":15.37,"v":66},
{"h":15.77,"v":74},{"h":15.77,"v":67},{"h":15.77,"v":60},{"h":15.77,"v":53},{"h":15.77,"v":46},{"h":15.77,"v":41},{"h":15.77,"v":38},{"h":15.77,"v":35},{"h":15.77,"v":32},{"h":15.77,"v":29},{"h":15.77,"v":26},{"h":15.77,"v":23},{"h":15.77,"v":20},{"h":15.77,"v":17},{"h":15.77,"v":14},{"h":15.77,"v":11},{"h":15.77,"v":6},{"h":15.77,"v":-5},
{"h":15.8,"v":35},{"h":15.8,"v":30},{"h":15.8,"v":25},{"h":15.8,"v":20},{"h":15.8,"v":15},
{"h":15.74,"v":28},{"h":15.74,"v":24},
{"h":17.11,"v":84},{"h":17.11,"v":78},{"h":17.11,"v":72},{"h":17.11,"v":66},{"h":17.11,"v":63},{"h":17.11,"v":60},{"h":17.11,"v":57},{"h":17.11,"v":54},{"h":17.11,"v":51},{"h":17.11,"v":44},{"h":17.11,"v":37},{"h":17.11,"v":31},
{"h":17.13,"v":58},{"h":17.13,"v":62},
{"h":18.71,"v":88},{"h":18.71,"v":80},{"h":18.71,"v":72},{"h":18.71,"v":66},{"h":18.71,"v":63},{"h":18.71,"v":60},{"h":18.71,"v":57},{"h":18.71,"v":54},{"h":18.71,"v":51},{"h":18.71,"v":45},{"h":18.71,"v":38},{"h":18.71,"v":33},
{"h":18.73,"v":58},{"h":18.73,"v":62},
{"h":20.22,"v":50},{"h":20.22,"v":53},{"h":20.22,"v":56},{"h":20.22,"v":59},{"h":20.22,"v":62},{"h":20.22,"v":65},{"h":20.22,"v":68},{"h":20.22,"v":71},{"h":20.22,"v":74},{"h":20.22,"v":76},
{"h":20.27,"v":55},{"h":20.27,"v":60},{"h":20.27,"v":65},{"h":20.27,"v":70},
{"h":20.31,"v":58},{"h":20.31,"v":64}
]
},
"vconcat": [
{"width": 1325, "height": 283, "resolve": {"axis": {"x": "independent", "y": "independent"}},
 "layer": [
  {"data": {"name": "p1"}, "mark": {"type": "square", "size": 10, "color": "#000000", "opacity": 1},
   "encoding": {
    "x": {"field": "h", "type": "quantitative", "scale": {"domain": [0.19, 20.33], "nice": false, "zero": false}, "axis": {"orient": "bottom", "values": [2,4,6,8,10,12,14,16,18,20], "format": "02d", "ticks": false, "tickSize": 0, "labelPadding": 24, "labelFontSize": 32, "labelColor": "#000000", "labelOverlap": false, "labelFlush": false, "domain": true, "domainColor": "#000000", "domainWidth": 2, "title": null}},
    "y": {"field": "v", "type": "quantitative", "scale": {"domain": [-150, 150], "nice": false, "zero": false}, "axis": {"orient": "left", "values": [-150,-100,-50,0,50,100,150], "ticks": false, "tickSize": 0, "labelPadding": 14, "labelFontSize": 32, "labelColor": "#000000", "labelOverlap": false, "labelFlush": true, "labelFlushOffset": 6, "domain": true, "domainColor": "#000000", "domainWidth": 2, "title": "Coeff 1 (SS1->SS2)", "titleFontSize": 38, "titleColor": "#000000", "titlePadding": 22}}
   }},
  {"data": {"values": []}, "mark": "point",
   "encoding": {
    "x": {"field": "h", "type": "quantitative", "scale": {"domain": [0.19, 20.33], "nice": false, "zero": false}, "axis": {"orient": "bottom", "values": [2,4,6,8,10,12,14,16,18,20], "labels": false, "domain": false, "ticks": true, "tickSize": -7, "tickWidth": 2, "tickColor": "#000000", "title": null}},
    "y": {"field": "v", "type": "quantitative", "scale": {"domain": [-150, 150], "nice": false, "zero": false}, "axis": {"orient": "left", "values": [-150,-100,-50,0,50,100,150], "labels": false, "domain": false, "ticks": true, "tickSize": -27, "tickWidth": 2, "tickColor": "#000000", "title": null}}
   }},
  {"data": {"values": []}, "mark": "point",
   "encoding": {
    "x": {"field": "h", "type": "quantitative", "scale": {"domain": [0.19, 20.33], "nice": false, "zero": false}, "axis": {"orient": "bottom", "values": [0.222,0.444,0.667,0.889,1.111,1.333,1.556,1.778,2.222,2.444,2.667,2.889,3.111,3.333,3.556,3.778,4.222,4.444,4.667,4.889,5.111,5.333,5.556,5.778,6.222,6.444,6.667,6.889,7.111,7.333,7.556,7.778,8.222,8.444,8.667,8.889,9.111,9.333,9.556,9.778,10.222,10.444,10.667,10.889,11.111,11.333,11.556,11.778,12.222,12.444,12.667,12.889,13.111,13.333,13.556,13.778,14.222,14.444,14.667,14.889,15.111,15.333,15.556,15.778,16.222,16.444,16.667,16.889,17.111,17.333,17.556,17.778,18.222,18.444,18.667,18.889,19.111,19.333,19.556,19.778,20.222], "labels": false, "domain": false, "ticks": true, "tickSize": -4, "tickWidth": 1.5, "tickColor": "#000000", "title": null}},
    "y": {"field": "v", "type": "quantitative", "scale": {"domain": [-150, 150], "nice": false, "zero": false}, "axis": {"orient": "left", "values": [-140,-130,-120,-110,-90,-80,-70,-60,-40,-30,-20,-10,10,20,30,40,60,70,80,90,110,120,130,140], "labels": false, "domain": false, "ticks": true, "tickSize": -13.5, "tickWidth": 1.5, "tickColor": "#000000", "title": null}}
   }},
  {"data": {"values": []}, "mark": "point",
   "encoding": {
    "x": {"field": "h", "type": "quantitative", "scale": {"domain": [0.19, 20.33], "nice": false, "zero": false}, "axis": {"orient": "top", "values": [2,4,6,8,10,12,14,16,18,20], "labels": false, "domain": true, "domainColor": "#000000", "domainWidth": 2, "ticks": true, "tickSize": -7, "tickWidth": 2, "tickColor": "#000000", "title": null}},
    "y": {"field": "v", "type": "quantitative", "scale": {"domain": [-150, 150], "nice": false, "zero": false}, "axis": {"orient": "right", "values": [-150,-100,-50,0,50,100,150], "labels": false, "domain": true, "domainColor": "#000000", "domainWidth": 2, "ticks": true, "tickSize": -27, "tickWidth": 2, "tickColor": "#000000", "title": null}}
   }},
  {"data": {"values": []}, "mark": "point",
   "encoding": {
    "x": {"field": "h", "type": "quantitative", "scale": {"domain": [0.19, 20.33], "nice": false, "zero": false}, "axis": {"orient": "top", "values": [0.222,0.444,0.667,0.889,1.111,1.333,1.556,1.778,2.222,2.444,2.667,2.889,3.111,3.333,3.556,3.778,4.222,4.444,4.667,4.889,5.111,5.333,5.556,5.778,6.222,6.444,6.667,6.889,7.111,7.333,7.556,7.778,8.222,8.444,8.667,8.889,9.111,9.333,9.556,9.778,10.222,10.444,10.667,10.889,11.111,11.333,11.556,11.778,12.222,12.444,12.667,12.889,13.111,13.333,13.556,13.778,14.222,14.444,14.667,14.889,15.111,15.333,15.556,15.778,16.222,16.444,16.667,16.889,17.111,17.333,17.556,17.778,18.222,18.444,18.667,18.889,19.111,19.333,19.556,19.778,20.222], "labels": false, "domain": false, "ticks": true, "tickSize": -4, "tickWidth": 1.5, "tickColor": "#000000", "title": null}},
    "y": {"field": "v", "type": "quantitative", "scale": {"domain": [-150, 150], "nice": false, "zero": false}, "axis": {"orient": "right", "values": [-140,-130,-120,-110,-90,-80,-70,-60,-40,-30,-20,-10,10,20,30,40,60,70,80,90,110,120,130,140], "labels": false, "domain": false, "ticks": true, "tickSize": -13.5, "tickWidth": 1.5, "tickColor": "#000000", "title": null}}
   }},
  {"data": {"values": []}, "mark": "point",
   "encoding": {
    "x": {"field": "h", "type": "quantitative", "scale": {"domain": [0.19, 20.33], "nice": false, "zero": false}, "axis": {"orient": "bottom", "offset": 72, "labels": false, "ticks": false, "domain": true, "domainColor": "#000000", "domainWidth": 2, "title": ["09-Oct", "Date"], "titleFontSize": 36, "titleColor": "#000000", "titlePadding": 19, "titleLineHeight": 40}},
    "y": {"field": "v", "type": "quantitative", "scale": {"domain": [-150, 150], "nice": false, "zero": false}, "axis": null}
   }}
 ]},
{"width": 1325, "height": 283, "resolve": {"axis": {"x": "independent", "y": "independent"}},
 "layer": [
  {"data": {"name": "p2"}, "mark": {"type": "square", "size": 10, "color": "#ff0000", "opacity": 1},
   "encoding": {
    "x": {"field": "h", "type": "quantitative", "scale": {"domain": [0.19, 20.33], "nice": false, "zero": false}, "axis": {"orient": "bottom", "values": [2,4,6,8,10,12,14,16,18,20], "format": "02d", "ticks": false, "tickSize": 0, "labelPadding": 24, "labelFontSize": 32, "labelColor": "#ff0000", "labelOverlap": false, "labelFlush": false, "domain": true, "domainColor": "#ff0000", "domainWidth": 2, "title": null}},
    "y": {"field": "v", "type": "quantitative", "scale": {"domain": [-150, 150], "nice": false, "zero": false}, "axis": {"orient": "left", "values": [-150,-100,-50,0,50,100,150], "ticks": false, "tickSize": 0, "labelPadding": 14, "labelFontSize": 32, "labelColor": "#ff0000", "labelOverlap": false, "labelFlush": true, "labelFlushOffset": 6, "domain": true, "domainColor": "#ff0000", "domainWidth": 2, "title": "Coeff 2 (SS2->SS3)", "titleFontSize": 38, "titleColor": "#ff0000", "titlePadding": 22}}
   }},
  {"data": {"values": []}, "mark": "point",
   "encoding": {
    "x": {"field": "h", "type": "quantitative", "scale": {"domain": [0.19, 20.33], "nice": false, "zero": false}, "axis": {"orient": "bottom", "values": [2,4,6,8,10,12,14,16,18,20], "labels": false, "domain": false, "ticks": true, "tickSize": -7, "tickWidth": 2, "tickColor": "#ff0000", "title": null}},
    "y": {"field": "v", "type": "quantitative", "scale": {"domain": [-150, 150], "nice": false, "zero": false}, "axis": {"orient": "left", "values": [-150,-100,-50,0,50,100,150], "labels": false, "domain": false, "ticks": true, "tickSize": -27, "tickWidth": 2, "tickColor": "#ff0000", "title": null}}
   }},
  {"data": {"values": []}, "mark": "point",
   "encoding": {
    "x": {"field": "h", "type": "quantitative", "scale": {"domain": [0.19, 20.33], "nice": false, "zero": false}, "axis": {"orient": "bottom", "values": [0.222,0.444,0.667,0.889,1.111,1.333,1.556,1.778,2.222,2.444,2.667,2.889,3.111,3.333,3.556,3.778,4.222,4.444,4.667,4.889,5.111,5.333,5.556,5.778,6.222,6.444,6.667,6.889,7.111,7.333,7.556,7.778,8.222,8.444,8.667,8.889,9.111,9.333,9.556,9.778,10.222,10.444,10.667,10.889,11.111,11.333,11.556,11.778,12.222,12.444,12.667,12.889,13.111,13.333,13.556,13.778,14.222,14.444,14.667,14.889,15.111,15.333,15.556,15.778,16.222,16.444,16.667,16.889,17.111,17.333,17.556,17.778,18.222,18.444,18.667,18.889,19.111,19.333,19.556,19.778,20.222], "labels": false, "domain": false, "ticks": true, "tickSize": -4, "tickWidth": 1.5, "tickColor": "#ff0000", "title": null}},
    "y": {"field": "v", "type": "quantitative", "scale": {"domain": [-150, 150], "nice": false, "zero": false}, "axis": {"orient": "left", "values": [-140,-130,-120,-110,-90,-80,-70,-60,-40,-30,-20,-10,10,20,30,40,60,70,80,90,110,120,130,140], "labels": false, "domain": false, "ticks": true, "tickSize": -13.5, "tickWidth": 1.5, "tickColor": "#ff0000", "title": null}}
   }},
  {"data": {"values": []}, "mark": "point",
   "encoding": {
    "x": {"field": "h", "type": "quantitative", "scale": {"domain": [0.19, 20.33], "nice": false, "zero": false}, "axis": {"orient": "top", "values": [2,4,6,8,10,12,14,16,18,20], "labels": false, "domain": true, "domainColor": "#ff0000", "domainWidth": 2, "ticks": true, "tickSize": -7, "tickWidth": 2, "tickColor": "#ff0000", "title": null}},
    "y": {"field": "v", "type": "quantitative", "scale": {"domain": [-150, 150], "nice": false, "zero": false}, "axis": {"orient": "right", "values": [-150,-100,-50,0,50,100,150], "labels": false, "domain": true, "domainColor": "#ff0000", "domainWidth": 2, "ticks": true, "tickSize": -27, "tickWidth": 2, "tickColor": "#ff0000", "title": null}}
   }},
  {"data": {"values": []}, "mark": "point",
   "encoding": {
    "x": {"field": "h", "type": "quantitative", "scale": {"domain": [0.19, 20.33], "nice": false, "zero": false}, "axis": {"orient": "top", "values": [0.222,0.444,0.667,0.889,1.111,1.333,1.556,1.778,2.222,2.444,2.667,2.889,3.111,3.333,3.556,3.778,4.222,4.444,4.667,4.889,5.111,5.333,5.556,5.778,6.222,6.444,6.667,6.889,7.111,7.333,7.556,7.778,8.222,8.444,8.667,8.889,9.111,9.333,9.556,9.778,10.222,10.444,10.667,10.889,11.111,11.333,11.556,11.778,12.222,12.444,12.667,12.889,13.111,13.333,13.556,13.778,14.222,14.444,14.667,14.889,15.111,15.333,15.556,15.778,16.222,16.444,16.667,16.889,17.111,17.333,17.556,17.778,18.222,18.444,18.667,18.889,19.111,19.333,19.556,19.778,20.222], "labels": false, "domain": false, "ticks": true, "tickSize": -4, "tickWidth": 1.5, "tickColor": "#ff0000", "title": null}},
    "y": {"field": "v", "type": "quantitative", "scale": {"domain": [-150, 150], "nice": false, "zero": false}, "axis": {"orient": "right", "values": [-140,-130,-120,-110,-90,-80,-70,-60,-40,-30,-20,-10,10,20,30,40,60,70,80,90,110,120,130,140], "labels": false, "domain": false, "ticks": true, "tickSize": -13.5, "tickWidth": 1.5, "tickColor": "#ff0000", "title": null}}
   }},
  {"data": {"values": []}, "mark": "point",
   "encoding": {
    "x": {"field": "h", "type": "quantitative", "scale": {"domain": [0.19, 20.33], "nice": false, "zero": false}, "axis": {"orient": "bottom", "offset": 72, "labels": false, "ticks": false, "domain": true, "domainColor": "#ff0000", "domainWidth": 2, "title": ["09-Oct", "Date"], "titleFontSize": 36, "titleColor": "#ff0000", "titlePadding": 19, "titleLineHeight": 40}},
    "y": {"field": "v", "type": "quantitative", "scale": {"domain": [-150, 150], "nice": false, "zero": false}, "axis": null}
   }}
 ]},
{"width": 1325, "height": 283, "resolve": {"axis": {"x": "independent", "y": "independent"}},
 "layer": [
  {"data": {"name": "p3"}, "mark": {"type": "square", "size": 10, "color": "#0000ff", "opacity": 1},
   "encoding": {
    "x": {"field": "h", "type": "quantitative", "scale": {"domain": [0.19, 20.33], "nice": false, "zero": false}, "axis": {"orient": "bottom", "values": [2,4,6,8,10,12,14,16,18,20], "format": "02d", "ticks": false, "tickSize": 0, "labelPadding": 24, "labelFontSize": 32, "labelColor": "#0000ff", "labelOverlap": false, "labelFlush": false, "domain": true, "domainColor": "#0000ff", "domainWidth": 2, "title": null}},
    "y": {"field": "v", "type": "quantitative", "scale": {"domain": [-150, 150], "nice": false, "zero": false}, "axis": {"orient": "left", "values": [-150,-100,-50,0,50,100,150], "ticks": false, "tickSize": 0, "labelPadding": 14, "labelFontSize": 32, "labelColor": "#0000ff", "labelOverlap": false, "labelFlush": true, "labelFlushOffset": 6, "domain": true, "domainColor": "#0000ff", "domainWidth": 2, "title": "Coeff 3 (SS3->SS4)", "titleFontSize": 38, "titleColor": "#0000ff", "titlePadding": 22}}
   }},
  {"data": {"values": []}, "mark": "point",
   "encoding": {
    "x": {"field": "h", "type": "quantitative", "scale": {"domain": [0.19, 20.33], "nice": false, "zero": false}, "axis": {"orient": "bottom", "values": [2,4,6,8,10,12,14,16,18,20], "labels": false, "domain": false, "ticks": true, "tickSize": -7, "tickWidth": 2, "tickColor": "#0000ff", "title": null}},
    "y": {"field": "v", "type": "quantitative", "scale": {"domain": [-150, 150], "nice": false, "zero": false}, "axis": {"orient": "left", "values": [-150,-100,-50,0,50,100,150], "labels": false, "domain": false, "ticks": true, "tickSize": -27, "tickWidth": 2, "tickColor": "#0000ff", "title": null}}
   }},
  {"data": {"values": []}, "mark": "point",
   "encoding": {
    "x": {"field": "h", "type": "quantitative", "scale": {"domain": [0.19, 20.33], "nice": false, "zero": false}, "axis": {"orient": "bottom", "values": [0.222,0.444,0.667,0.889,1.111,1.333,1.556,1.778,2.222,2.444,2.667,2.889,3.111,3.333,3.556,3.778,4.222,4.444,4.667,4.889,5.111,5.333,5.556,5.778,6.222,6.444,6.667,6.889,7.111,7.333,7.556,7.778,8.222,8.444,8.667,8.889,9.111,9.333,9.556,9.778,10.222,10.444,10.667,10.889,11.111,11.333,11.556,11.778,12.222,12.444,12.667,12.889,13.111,13.333,13.556,13.778,14.222,14.444,14.667,14.889,15.111,15.333,15.556,15.778,16.222,16.444,16.667,16.889,17.111,17.333,17.556,17.778,18.222,18.444,18.667,18.889,19.111,19.333,19.556,19.778,20.222], "labels": false, "domain": false, "ticks": true, "tickSize": -4, "tickWidth": 1.5, "tickColor": "#0000ff", "title": null}},
    "y": {"field": "v", "type": "quantitative", "scale": {"domain": [-150, 150], "nice": false, "zero": false}, "axis": {"orient": "left", "values": [-140,-130,-120,-110,-90,-80,-70,-60,-40,-30,-20,-10,10,20,30,40,60,70,80,90,110,120,130,140], "labels": false, "domain": false, "ticks": true, "tickSize": -13.5, "tickWidth": 1.5, "tickColor": "#0000ff", "title": null}}
   }},
  {"data": {"values": []}, "mark": "point",
   "encoding": {
    "x": {"field": "h", "type": "quantitative", "scale": {"domain": [0.19, 20.33], "nice": false, "zero": false}, "axis": {"orient": "top", "values": [2,4,6,8,10,12,14,16,18,20], "labels": false, "domain": true, "domainColor": "#0000ff", "domainWidth": 2, "ticks": true, "tickSize": -7, "tickWidth": 2, "tickColor": "#0000ff", "title": null}},
    "y": {"field": "v", "type": "quantitative", "scale": {"domain": [-150, 150], "nice": false, "zero": false}, "axis": {"orient": "right", "values": [-150,-100,-50,0,50,100,150], "labels": false, "domain": true, "domainColor": "#0000ff", "domainWidth": 2, "ticks": true, "tickSize": -27, "tickWidth": 2, "tickColor": "#0000ff", "title": null}}
   }},
  {"data": {"values": []}, "mark": "point",
   "encoding": {
    "x": {"field": "h", "type": "quantitative", "scale": {"domain": [0.19, 20.33], "nice": false, "zero": false}, "axis": {"orient": "top", "values": [0.222,0.444,0.667,0.889,1.111,1.333,1.556,1.778,2.222,2.444,2.667,2.889,3.111,3.333,3.556,3.778,4.222,4.444,4.667,4.889,5.111,5.333,5.556,5.778,6.222,6.444,6.667,6.889,7.111,7.333,7.556,7.778,8.222,8.444,8.667,8.889,9.111,9.333,9.556,9.778,10.222,10.444,10.667,10.889,11.111,11.333,11.556,11.778,12.222,12.444,12.667,12.889,13.111,13.333,13.556,13.778,14.222,14.444,14.667,14.889,15.111,15.333,15.556,15.778,16.222,16.444,16.667,16.889,17.111,17.333,17.556,17.778,18.222,18.444,18.667,18.889,19.111,19.333,19.556,19.778,20.222], "labels": false, "domain": false, "ticks": true, "tickSize": -4, "tickWidth": 1.5, "tickColor": "#0000ff", "title": null}},
    "y": {"field": "v", "type": "quantitative", "scale": {"domain": [-150, 150], "nice": false, "zero": false}, "axis": {"orient": "right", "values": [-140,-130,-120,-110,-90,-80,-70,-60,-40,-30,-20,-10,10,20,30,40,60,70,80,90,110,120,130,140], "labels": false, "domain": false, "ticks": true, "tickSize": -13.5, "tickWidth": 1.5, "tickColor": "#0000ff", "title": null}}
   }},
  {"data": {"values": []}, "mark": "point",
   "encoding": {
    "x": {"field": "h", "type": "quantitative", "scale": {"domain": [0.19, 20.33], "nice": false, "zero": false}, "axis": {"orient": "bottom", "offset": 72, "labels": false, "ticks": false, "domain": true, "domainColor": "#0000ff", "domainWidth": 2, "title": ["09-Oct", "Date"], "titleFontSize": 36, "titleColor": "#0000ff", "titlePadding": 19, "titleLineHeight": 40}},
    "y": {"field": "v", "type": "quantitative", "scale": {"domain": [-150, 150], "nice": false, "zero": false}, "axis": null}
   }}
 ]},
{"width": 1325, "height": 283, "resolve": {"axis": {"x": "independent", "y": "independent"}},
 "layer": [
  {"data": {"name": "p4"}, "mark": {"type": "square", "size": 10, "color": "#008000", "opacity": 1},
   "encoding": {
    "x": {"field": "h", "type": "quantitative", "scale": {"domain": [0.19, 20.33], "nice": false, "zero": false}, "axis": {"orient": "bottom", "values": [2,4,6,8,10,12,14,16,18,20], "format": "02d", "ticks": false, "tickSize": 0, "labelPadding": 24, "labelFontSize": 32, "labelColor": "#008000", "labelOverlap": false, "labelFlush": false, "domain": true, "domainColor": "#008000", "domainWidth": 2, "title": null}},
    "y": {"field": "v", "type": "quantitative", "scale": {"domain": [-150, 150], "nice": false, "zero": false}, "axis": {"orient": "left", "values": [-150,-100,-50,0,50,100,150], "ticks": false, "tickSize": 0, "labelPadding": 14, "labelFontSize": 32, "labelColor": "#008000", "labelOverlap": false, "labelFlush": true, "labelFlushOffset": 6, "domain": true, "domainColor": "#008000", "domainWidth": 2, "title": "Coeff 4 (SS4->SS5)", "titleFontSize": 38, "titleColor": "#008000", "titlePadding": 22}}
   }},
  {"data": {"values": []}, "mark": "point",
   "encoding": {
    "x": {"field": "h", "type": "quantitative", "scale": {"domain": [0.19, 20.33], "nice": false, "zero": false}, "axis": {"orient": "bottom", "values": [2,4,6,8,10,12,14,16,18,20], "labels": false, "domain": false, "ticks": true, "tickSize": -7, "tickWidth": 2, "tickColor": "#008000", "title": null}},
    "y": {"field": "v", "type": "quantitative", "scale": {"domain": [-150, 150], "nice": false, "zero": false}, "axis": {"orient": "left", "values": [-150,-100,-50,0,50,100,150], "labels": false, "domain": false, "ticks": true, "tickSize": -27, "tickWidth": 2, "tickColor": "#008000", "title": null}}
   }},
  {"data": {"values": []}, "mark": "point",
   "encoding": {
    "x": {"field": "h", "type": "quantitative", "scale": {"domain": [0.19, 20.33], "nice": false, "zero": false}, "axis": {"orient": "bottom", "values": [0.222,0.444,0.667,0.889,1.111,1.333,1.556,1.778,2.222,2.444,2.667,2.889,3.111,3.333,3.556,3.778,4.222,4.444,4.667,4.889,5.111,5.333,5.556,5.778,6.222,6.444,6.667,6.889,7.111,7.333,7.556,7.778,8.222,8.444,8.667,8.889,9.111,9.333,9.556,9.778,10.222,10.444,10.667,10.889,11.111,11.333,11.556,11.778,12.222,12.444,12.667,12.889,13.111,13.333,13.556,13.778,14.222,14.444,14.667,14.889,15.111,15.333,15.556,15.778,16.222,16.444,16.667,16.889,17.111,17.333,17.556,17.778,18.222,18.444,18.667,18.889,19.111,19.333,19.556,19.778,20.222], "labels": false, "domain": false, "ticks": true, "tickSize": -4, "tickWidth": 1.5, "tickColor": "#008000", "title": null}},
    "y": {"field": "v", "type": "quantitative", "scale": {"domain": [-150, 150], "nice": false, "zero": false}, "axis": {"orient": "left", "values": [-140,-130,-120,-110,-90,-80,-70,-60,-40,-30,-20,-10,10,20,30,40,60,70,80,90,110,120,130,140], "labels": false, "domain": false, "ticks": true, "tickSize": -13.5, "tickWidth": 1.5, "tickColor": "#008000", "title": null}}
   }},
  {"data": {"values": []}, "mark": "point",
   "encoding": {
    "x": {"field": "h", "type": "quantitative", "scale": {"domain": [0.19, 20.33], "nice": false, "zero": false}, "axis": {"orient": "top", "values": [2,4,6,8,10,12,14,16,18,20], "labels": false, "domain": true, "domainColor": "#008000", "domainWidth": 2, "ticks": true, "tickSize": -7, "tickWidth": 2, "tickColor": "#008000", "title": null}},
    "y": {"field": "v", "type": "quantitative", "scale": {"domain": [-150, 150], "nice": false, "zero": false}, "axis": {"orient": "right", "values": [-150,-100,-50,0,50,100,150], "labels": false, "domain": true, "domainColor": "#008000", "domainWidth": 2, "ticks": true, "tickSize": -27, "tickWidth": 2, "tickColor": "#008000", "title": null}}
   }},
  {"data": {"values": []}, "mark": "point",
   "encoding": {
    "x": {"field": "h", "type": "quantitative", "scale": {"domain": [0.19, 20.33], "nice": false, "zero": false}, "axis": {"orient": "top", "values": [0.222,0.444,0.667,0.889,1.111,1.333,1.556,1.778,2.222,2.444,2.667,2.889,3.111,3.333,3.556,3.778,4.222,4.444,4.667,4.889,5.111,5.333,5.556,5.778,6.222,6.444,6.667,6.889,7.111,7.333,7.556,7.778,8.222,8.444,8.667,8.889,9.111,9.333,9.556,9.778,10.222,10.444,10.667,10.889,11.111,11.333,11.556,11.778,12.222,12.444,12.667,12.889,13.111,13.333,13.556,13.778,14.222,14.444,14.667,14.889,15.111,15.333,15.556,15.778,16.222,16.444,16.667,16.889,17.111,17.333,17.556,17.778,18.222,18.444,18.667,18.889,19.111,19.333,19.556,19.778,20.222], "labels": false, "domain": false, "ticks": true, "tickSize": -4, "tickWidth": 1.5, "tickColor": "#008000", "title": null}},
    "y": {"field": "v", "type": "quantitative", "scale": {"domain": [-150, 150], "nice": false, "zero": false}, "axis": {"orient": "right", "values": [-140,-130,-120,-110,-90,-80,-70,-60,-40,-30,-20,-10,10,20,30,40,60,70,80,90,110,120,130,140], "labels": false, "domain": false, "ticks": true, "tickSize": -13.5, "tickWidth": 1.5, "tickColor": "#008000", "title": null}}
   }},
  {"data": {"values": []}, "mark": "point",
   "encoding": {
    "x": {"field": "h", "type": "quantitative", "scale": {"domain": [0.19, 20.33], "nice": false, "zero": false}, "axis": {"orient": "bottom", "offset": 72, "labels": false, "ticks": false, "domain": true, "domainColor": "#008000", "domainWidth": 2, "title": ["09-Oct", "Date"], "titleFontSize": 36, "titleColor": "#008000", "titlePadding": 19, "titleLineHeight": 40}},
    "y": {"field": "v", "type": "quantitative", "scale": {"domain": [-150, 150], "nice": false, "zero": false}, "axis": null}
   }}
 ]}
]
}
